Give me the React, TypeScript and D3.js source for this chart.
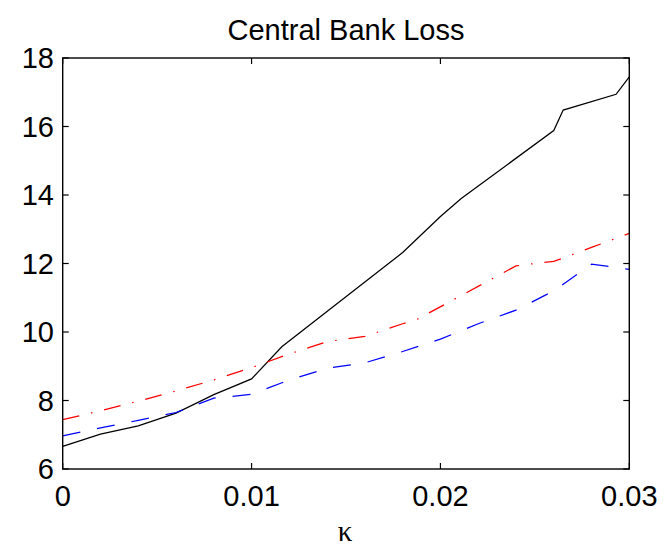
import React from 'react';
import * as d3 from 'd3';

// Central bank loss as a function of kappa, three policy regimes
const kappaSolid = [0, 0.002, 0.004, 0.006, 0.008, 0.01, 0.0116, 0.018, 0.02, 0.0211, 0.026, 0.0265, 0.0293, 0.03];
const lossSolid = [6.66, 7.02, 7.26, 7.63, 8.17, 8.63, 9.57, 12.32, 13.37, 13.9, 15.88, 16.48, 16.94, 17.45];

const kappaDashDot = [0, 0.002, 0.004, 0.006, 0.008, 0.01, 0.012, 0.014, 0.016, 0.018, 0.0188, 0.024, 0.025, 0.026, 0.028, 0.03];
const lossDashDot = [7.44, 7.7, 7.98, 8.28, 8.6, 8.96, 9.36, 9.72, 9.87, 10.24, 10.38, 11.93, 12.0, 12.06, 12.47, 12.88];

const kappaDashed = [0, 0.002, 0.004, 0.006, 0.008, 0.009, 0.01, 0.012, 0.014, 0.016, 0.018, 0.02, 0.022, 0.024, 0.026, 0.028, 0.03];
const lossDashed = [6.97, 7.2, 7.42, 7.65, 8.07, 8.12, 8.18, 8.6, 8.94, 9.1, 9.43, 9.79, 10.24, 10.64, 11.2, 11.98, 11.83];

const xTicks = [0, 0.01, 0.02, 0.03];
const xTickLabels = ['0', '0.01', '0.02', '0.03'];
const yTicks = [6, 8, 10, 12, 14, 16, 18];
const yTickLabels = ['6', '8', '10', '12', '14', '16', '18'];

const titleText = 'Central Bank Loss';
const xLabelText = 'κ';

const W = 668;
const H = 548;
const left = 62.7;
const right = 629.3;
const top = 58;
const bottom = 469;
const tickLen = 6;
const font = 'Arial, "Liberation Sans", Helvetica, sans-serif';

export default function App() {
  const x = d3.scaleLinear().domain([0, 0.03]).range([left, right]);
  const y = d3.scaleLinear().domain([6, 18]).range([bottom, top]);

  const line = d3
    .line<[number, number]>()
    .x((d) => x(d[0]))
    .y((d) => y(d[1]));

  const pts = (ks: number[], vs: number[]) => ks.map((k, i) => [k, vs[i]] as [number, number]);

  const series = [
    { data: pts(kappaSolid, lossSolid), color: '#000000', dash: undefined as string | undefined },
    { data: pts(kappaDashDot, lossDashDot), color: '#ff0000', dash: '17,12,1.5,12' },
    { data: pts(kappaDashed, lossDashed), color: '#0000ff', dash: '18,17' },
  ];

  return (
    <svg
      width={W}
      height={H}
      viewBox={`0 0 ${W} ${H}`}
      style={{ position: 'absolute', left: 0, top: 0, background: '#fff' }}
    >
      <rect x={0} y={0} width={W} height={H} fill="#ffffff" />

      <defs>
        <clipPath id="plotClip">
          <rect x={left} y={top - 1} width={right - left + 1} height={bottom - top + 2} />
        </clipPath>
      </defs>
      <g clipPath="url(#plotClip)">
        {series.map((s, i) => (
          <path
            key={i}
            d={line(s.data) || ''}
            fill="none"
            stroke={s.color}
            strokeWidth={1.25}
            strokeDasharray={s.dash}
            strokeLinejoin="miter"
          />
        ))}
      </g>

      {/* inward ticks on all four sides */}
      {xTicks.map((t, i) => (
        <g key={`xt${i}`} stroke="#000" strokeWidth={1.2}>
          <line x1={x(t)} x2={x(t)} y1={bottom} y2={bottom - tickLen} />
          <line x1={x(t)} x2={x(t)} y1={top} y2={top + tickLen} />
        </g>
      ))}
      {yTicks.map((t, i) => (
        <g key={`yt${i}`} stroke="#000" strokeWidth={1.2}>
          <line x1={left} x2={left + tickLen} y1={y(t)} y2={y(t)} />
          <line x1={right} x2={right - tickLen} y1={y(t)} y2={y(t)} />
        </g>
      ))}

      <rect
        x={left}
        y={top}
        width={right - left}
        height={bottom - top}
        fill="none"
        stroke="#000"
        strokeWidth={1.4}
      />

      {xTicks.map((t, i) => (
        <text
          key={`xl${i}`}
          x={x(t)}
          y={506}
          textAnchor="middle"
          fontFamily={font}
          fontSize={29}
          fill="#000"
        >
          {xTickLabels[i]}
        </text>
      ))}
      {yTicks.map((t, i) => (
        <text
          key={`yl${i}`}
          x={54}
          y={y(t)}
          dy="0.36em"
          textAnchor="end"
          fontFamily={font}
          fontSize={29}
          fill="#000"
        >
          {yTickLabels[i]}
        </text>
      ))}

      <text
        x={(left + right) / 2}
        y={40}
        textAnchor="middle"
        fontFamily={font}
        fontSize={29}
        fill="#000"
      >
        {titleText}
      </text>

      <text
        x={345}
        y={541}
        textAnchor="middle"
        fontFamily='"Liberation Serif", "Times New Roman", serif'
        fontSize={29}
        fill="#000"
      >
        {xLabelText}
      </text>
    </svg>
  );
}
